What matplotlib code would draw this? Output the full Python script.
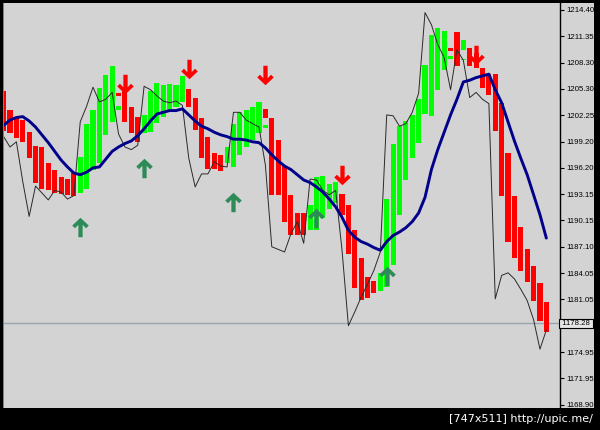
import numpy as np
import matplotlib
matplotlib.use('Agg')
import matplotlib.pyplot as plt
from matplotlib.path import Path
from matplotlib.patches import Rectangle
import matplotlib.transforms as mtransforms

# Heiken Ashi style bars (open / close), one per bar index
ha_open = [1205.0, 1202.9, 1201.9, 1201.7, 1200.3, 1198.7, 1198.6, 1196.8, 1196.0, 1195.2,
           1194.9, 1195.6, 1193.3, 1193.8, 1196.0, 1196.7, 1200.0, 1201.5, 1204.8, 1205.0,
           1203.2, 1202.1, 1200.2, 1200.3, 1201.4, 1202.1, 1202.7, 1203.2, 1203.8, 1205.3,
           1204.3, 1201.9, 1199.7, 1197.9, 1197.7, 1196.7, 1196.3, 1197.7, 1198.6, 1199.4,
           1200.2, 1203.0, 1202.0, 1199.4, 1196.4, 1193.1, 1191.0, 1191.0, 1189.0, 1189.0,
           1190.4, 1191.5, 1192.1, 1193.2, 1191.9, 1189.0, 1185.8, 1183.6, 1183.2, 1182.0,
           1182.5, 1185.0, 1190.8, 1194.8, 1197.3, 1199.1, 1202.4, 1202.2, 1205.2, 1207.5,
           1210.0, 1211.9, 1209.8, 1210.0, 1209.4, 1207.7, 1207.0, 1207.0, 1203.7, 1197.9,
           1192.9, 1189.4, 1186.9, 1184.9, 1182.9, 1180.7]
ha_close = [1200.4, 1200.2, 1199.6, 1199.2, 1197.3, 1194.4, 1193.8, 1193.6, 1193.3, 1193.2,
            1193.1, 1192.9, 1197.4, 1201.3, 1202.9, 1205.4, 1206.9, 1207.9, 1204.5, 1201.5,
            1200.2, 1199.2, 1202.3, 1205.1, 1206.0, 1205.7, 1205.9, 1205.7, 1206.8, 1203.2,
            1200.6, 1197.3, 1196.1, 1196.1, 1195.8, 1198.6, 1201.3, 1202.6, 1202.9, 1203.2,
            1203.8, 1201.9, 1193.1, 1193.1, 1190.0, 1188.5, 1188.5, 1188.5, 1191.9, 1195.1,
            1195.3, 1194.3, 1194.6, 1190.8, 1186.3, 1182.4, 1181.0, 1181.2, 1181.8, 1184.1,
            1192.6, 1199.0, 1201.0, 1201.6, 1202.3, 1204.1, 1208.1, 1211.5, 1212.3, 1212.0,
            1209.7, 1207.9, 1210.9, 1207.9, 1207.7, 1205.4, 1204.6, 1200.5, 1192.9, 1187.7,
            1185.8, 1184.3, 1183.0, 1180.9, 1178.5, 1177.3]

# small extra dashes drawn next to some bars
dash_idx = [18, 41, 70, 72]
dash_open = [1202.9, 1200.8, 1208.7, 1208.6]
dash_close = [1203.3, 1201.1, 1209.1, 1208.8]

# thin black price line
price_line = [1199.8, 1198.6, 1199.2, 1194.6, 1190.6, 1194.1, 1193.3, 1192.5, 1193.6, 1193.4,
              1192.6, 1193.0, 1201.5, 1203.3, 1205.5, 1203.8, 1204.1, 1204.9, 1200.1, 1198.6,
              1198.3, 1198.8, 1205.6, 1205.2, 1204.5, 1203.9, 1203.7, 1203.9, 1203.4, 1197.3,
              1194.0, 1195.5, 1195.5, 1196.9, 1196.4, 1196.3, 1202.6, 1202.6, 1201.7, 1201.3,
              1200.9, 1196.5, 1187.1, 1186.8, 1186.5, 1188.6, 1190.0, 1187.5, 1194.9, 1194.8,
              1193.6, 1193.1, 1193.6, 1186.7, 1178.0, 1179.6, 1181.3, 1182.8, 1184.4, 1186.5,
              1202.3, 1202.2, 1201.0, 1201.3, 1202.6, 1204.8, 1214.1, 1212.7, 1210.4, 1208.9,
              1205.2, 1209.8, 1208.6, 1204.3, 1204.9, 1204.1, 1203.6, 1181.1, 1183.8, 1184.1,
              1183.4, 1182.2, 1180.9, 1178.7, 1175.3, 1177.5]

# dark blue moving average
ma_line = [1201.1, 1201.7, 1202.0, 1202.1, 1201.6, 1200.9, 1200.0, 1199.1, 1198.1, 1197.1,
           1196.3, 1195.6, 1195.4, 1195.7, 1196.2, 1196.3, 1197.2, 1198.1, 1198.6, 1199.0,
           1199.3, 1199.9, 1200.7, 1201.6, 1202.4, 1202.6, 1202.8, 1202.8, 1203.0, 1202.3,
           1201.6, 1201.0, 1200.7, 1200.3, 1200.0, 1199.8, 1199.5, 1199.5, 1199.4, 1199.2,
           1199.1, 1198.5, 1197.7, 1197.0, 1196.4, 1196.0, 1195.4, 1194.8, 1194.5, 1194.0,
           1193.4, 1192.6, 1191.7, 1190.5, 1189.0, 1188.2, 1187.7, 1187.4, 1187.0, 1186.7,
           1187.7, 1188.4, 1188.8, 1189.3, 1190.0, 1191.0, 1192.8, 1196.0, 1198.3, 1200.3,
           1202.3, 1204.1, 1206.1, 1206.3, 1206.6, 1206.8, 1207.0, 1205.2, 1203.7, 1201.5,
           1199.3, 1197.3, 1195.4, 1193.1, 1190.8, 1188.1]

# signal arrows
up_idx = [12, 22, 36, 49, 60]
up_price = [1189.4, 1196.2, 1192.3, 1190.4, 1183.7]
down_idx = [19, 29, 41, 53, 74]
down_price = [1205.9, 1207.6, 1206.9, 1195.4, 1209.2]

tick_vals = [1214.40, 1211.35, 1208.30, 1205.30, 1202.25, 1199.20, 1196.20, 1193.15,
             1190.15, 1187.10, 1184.05, 1181.05, 1174.95, 1171.95, 1168.90]
last_price = 1178.28

bg = '#d3d3d3'
W, H = 600, 430

fig = plt.figure(figsize=(6, 4.3), dpi=100, facecolor='black')
# grey chart panel inside black frame (drawn below the axes)
fig.patches.append(Rectangle((3 / W, (H - 408) / H), 591 / W, 405 / H,
                             transform=fig.transFigure, facecolor=bg, edgecolor='none', zorder=-2))
fig.patches.append(Rectangle((3 / W, (H - 408) / H), 1 / W, 405 / H,
                             transform=fig.transFigure, facecolor='#808080', edgecolor='none', zorder=-1))

ax = fig.add_axes([4 / W, (H - 407) / H, 556 / W, 404 / H])
ax.set_facecolor(bg)

n = len(ha_open)
idx = np.arange(n)
o = np.array(ha_open)
c = np.array(ha_close)
cols = np.where(c >= o, '#00ff00', '#ff0000')
ax.bar(idx, c - o, bottom=o, width=0.8, color=cols, linewidth=0, zorder=2)

do = np.array(dash_open)
dc = np.array(dash_close)
ax.bar(dash_idx, dc - do, bottom=do, width=0.8, color='#00ff00', linewidth=0, zorder=2)

ax.axhline(last_price, color='#9aa4ae', lw=1.0, zorder=1)

ax.plot(idx, price_line, color='#2a2a2a', lw=0.7, zorder=3)
ax.plot(idx, ma_line, color='#00008b', lw=2.1, zorder=4, solid_capstyle='round')

# arrow markers (thick stem + chevron head)
up_verts = [(0, 1.0), (0.85, 0.2), (0.57, -0.08), (0.22, 0.28), (0.22, -1.0),
            (-0.22, -1.0), (-0.22, 0.28), (-0.57, -0.08), (-0.85, 0.2), (0, 1.0)]
up_path = Path(up_verts, closed=True)
down_path = Path([(x, -y) for x, y in up_verts], closed=True)
ax.plot(up_idx, up_price, linestyle='none', marker=up_path, markersize=14,
        color='#2e8b57', markeredgewidth=0, zorder=5)
ax.plot(down_idx, down_price, linestyle='none', marker=down_path, markersize=14,
        color='#ff0000', markeredgewidth=0, zorder=5)

ax.set_xlim(0.06, 87.14)
ax.set_ylim(1168.63, 1215.20)

for s in ['top', 'left', 'bottom']:
    ax.spines[s].set_visible(False)
ax.spines['right'].set_color('black')
ax.spines['right'].set_linewidth(1.0)
ax.set_xticks([])
ax.yaxis.tick_right()
ax.set_yticks(tick_vals)
ax.set_yticklabels(['%.2f' % v for v in tick_vals])
ax.tick_params(axis='y', direction='out', length=3, width=0.8, pad=1.5,
               labelsize=5.6, colors='black')
for lab in ax.get_yticklabels():
    lab.set_family('Liberation Sans')

# current price box on the scale
trans = mtransforms.blended_transform_factory(ax.transAxes, ax.transData)
ax.text(1.0, last_price, ' %.2f ' % last_price, transform=trans, ha='left', va='center',
        fontsize=5.6, family='Liberation Sans', color='black', clip_on=False,
        bbox=dict(boxstyle='square,pad=0.15', facecolor='#e6e6e6', edgecolor='black', lw=0.8))

fig.text(0.988, (H - 419) / H, '[747x511] http://upic.me/', color='white',
         ha='right', va='center', fontsize=8)

fig.savefig('out.png', dpi=100, facecolor=fig.get_facecolor())
